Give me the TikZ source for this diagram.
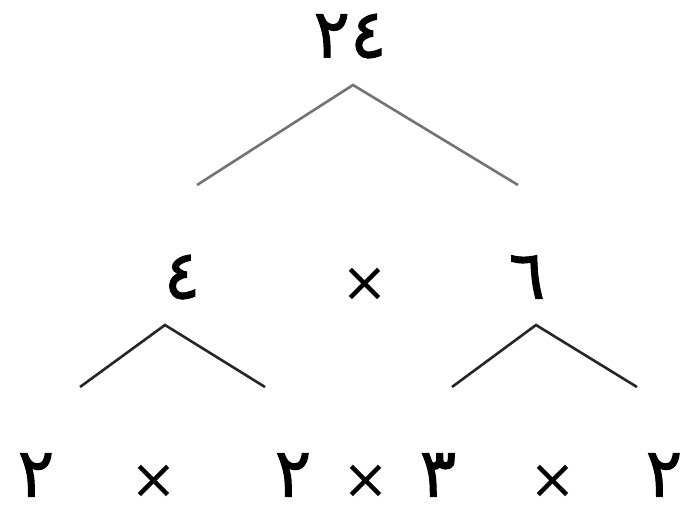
\documentclass[tikz,border=0pt]{standalone}
\usepackage{fontspec}
\newfontfamily\arabicfont[Script=Arabic,FakeBold=1.5]{DejaVu Sans}
\newfontfamily\symfont{DejaVu Sans}
\begin{document}
\begin{tikzpicture}[x=1pt,y=-1pt,
  num/.style={inner sep=0pt,font=\arabicfont\fontsize{68}{72}\selectfont},
  timesign/.style={inner sep=0pt,font=\symfont\fontsize{56}{60}\selectfont},
  topline/.style={draw=black!55,line width=2.6pt},
  subline/.style={draw=black!85,line width=2.6pt}]
\useasboundingbox (0,0) rectangle (682,512);
% top number
\node[num] (n24) at (350,36) {٢٤};
\coordinate (v0) at (353,85);
\coordinate (l0) at (197,185);
\coordinate (r0) at (518,185);
\draw[topline] (l0) -- (v0) -- (r0);
% middle row
\node[num] (n4) at (182,277) {٤};
\node[timesign] (x0) at (365,285) {×};
\node[num] (n6) at (527,277) {٦};
\coordinate (v1) at (165,325);
\coordinate (l1) at (80,387);
\coordinate (r1) at (265,387);
\draw[subline] (l1) -- (v1) -- (r1);
\coordinate (v2) at (536,325);
\coordinate (l2) at (452,387);
\coordinate (r2) at (637,387);
\draw[subline] (l2) -- (v2) -- (r2);
% bottom row
\node[num] (b1) at (36,475) {٢};
\node[timesign] (x1) at (154,482) {×};
\node[num] (b2) at (293,475) {٢};
\node[timesign] (x2) at (366,482) {×};
\node[num] (b3) at (438,475) {٣};
\node[timesign] (x3) at (553,482) {×};
\node[num] (b4) at (664,475) {٢};
\end{tikzpicture}
\end{document}
